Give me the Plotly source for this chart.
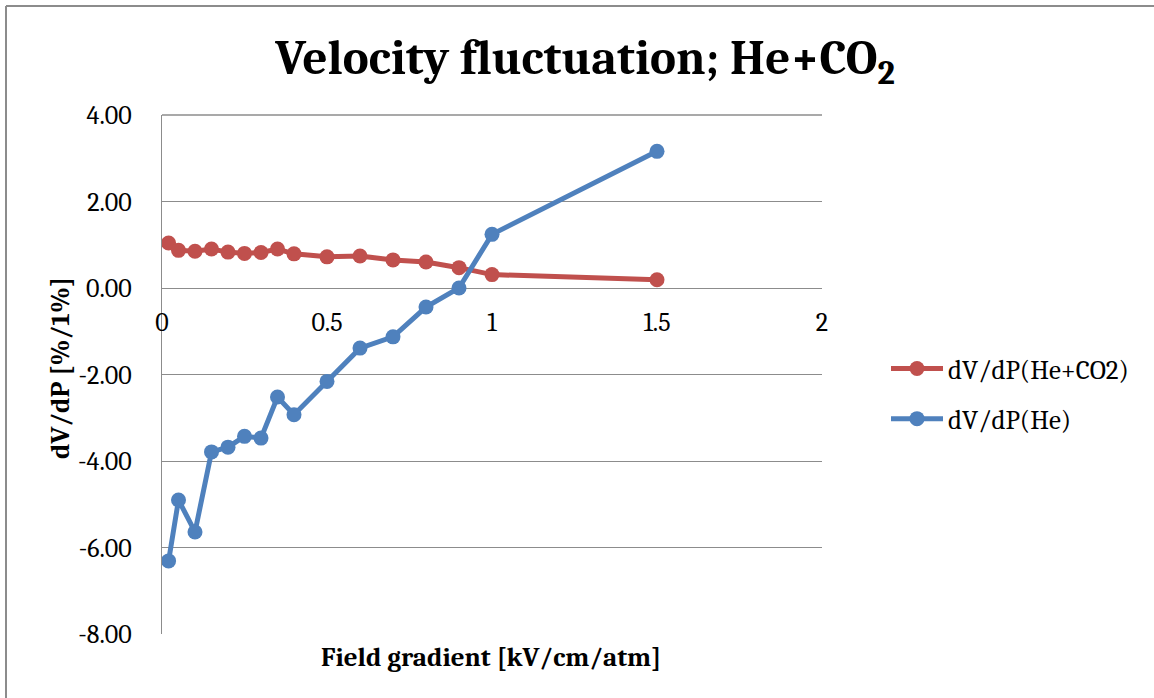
import plotly.graph_objects as go

x_vals = [0.02, 0.05, 0.1, 0.15, 0.2, 0.25, 0.3, 0.35, 0.4, 0.5, 0.6, 0.7, 0.8, 0.9, 1.0, 1.5]
he_co2 = [1.04, 0.87, 0.85, 0.90, 0.83, 0.80, 0.82, 0.90, 0.79, 0.72, 0.74, 0.65, 0.60, 0.47, 0.31, 0.19]
he = [-6.31, -4.90, -5.64, -3.79, -3.68, -3.43, -3.47, -2.52, -2.93, -2.16, -1.39, -1.13, -0.44, 0.00, 1.24, 3.16]
y_ticks = [-8, -6, -4, -2, 0, 2, 4]
y_tick_labels = ["-8.00", "-6.00", "-4.00", "-2.00", "0.00", "2.00", "4.00"]
x_ticks = [0, 0.5, 1, 1.5, 2]
x_tick_labels = ["0", "0.5", "1", "1.5", "2"]

W, H = 1154, 698
L, R, T, B = 162, 822, 115, 634

def px(xp):
    return (xp - L) / (R - L)

def py(yp):
    return (B - yp) / (B - T)

serif = "Cambria, Caladea, 'Liberation Serif', 'DejaVu Serif', serif"

fig = go.Figure()
fig.add_trace(go.Scatter(
    x=x_vals, y=he_co2, name="dV/dP(He+CO2)", mode="lines+markers", legendgroup="a",
    line=dict(color="#C0504D", width=5), marker=dict(color="#C0504D", size=15),
))
fig.add_trace(go.Scatter(
    x=x_vals, y=he, name="dV/dP(He)", mode="lines+markers", legendgroup="b",
    line=dict(color="#4F81BD", width=5), marker=dict(color="#4F81BD", size=15),
))

fig.update_layout(
    width=W, height=H,
    margin=dict(l=L, r=W - R, t=T, b=H - B),
    paper_bgcolor="white", plot_bgcolor="white",
    font=dict(family=serif, size=26, color="black"),
    title=dict(text="<b>Velocity fluctuation; He+CO<sub>2</sub></b>",
               x=px(585), xref="paper", xanchor="center",
               y=1 - 57 / H, yanchor="middle", yref="container",
               font=dict(size=49, family=serif)),
    showlegend=True,
    legend=dict(x=px(886), y=py(394), xanchor="left", yanchor="middle",
                xref="paper", yref="paper", font=dict(size=27, family=serif),
                itemwidth=52, tracegroupgap=12, bgcolor="rgba(0,0,0,0)"),
    xaxis=dict(range=[0, 2], tickvals=x_ticks, ticktext=x_tick_labels,
               anchor="free", position=py(288), showgrid=False, zeroline=False,
               showline=False, ticks="", ticklabelstandoff=16,
               tickfont=dict(size=26, family=serif)),
    yaxis=dict(range=[-8, 4], tickvals=y_ticks, ticktext=y_tick_labels,
               showgrid=True, gridcolor="#8C8C8C", gridwidth=1.3,
               zeroline=False, showline=True, linecolor="#8C8C8C", linewidth=1.3,
               ticks="", ticklen=0, ticklabelstandoff=24,
               tickfont=dict(size=26, family=serif)),
    annotations=[
        dict(text="<b>Field gradient [kV/cm/atm]</b>", x=px(491), y=py(657),
             xref="paper", yref="paper", showarrow=False,
             xanchor="center", yanchor="middle", font=dict(size=27, family=serif)),
        dict(text="<b>dV/dP [%/1%]</b>", x=px(60), y=py(368),
             xref="paper", yref="paper", showarrow=False, textangle=-90,
             xanchor="center", yanchor="middle", font=dict(size=27, family=serif)),
    ],
    shapes=[
        dict(type="line", xref="paper", yref="paper", x0=px(6), x1=px(6),
             y0=py(6), y1=py(700), line=dict(color="#8C8C8C", width=2)),
        dict(type="line", xref="paper", yref="paper", x0=px(6), x1=px(1160),
             y0=py(6), y1=py(6), line=dict(color="#8C8C8C", width=2)),
        dict(type="line", xref="paper", yref="paper", x0=0, x1=1,
             y0=1, y1=1, line=dict(color="#8C8C8C", width=1.3)),
    ],
)

fig.write_html("out.html")
